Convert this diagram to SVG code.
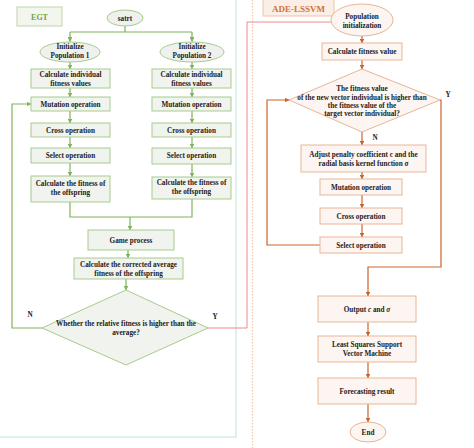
<svg xmlns="http://www.w3.org/2000/svg" width="474" height="448" viewBox="0 0 474 448">
<defs>
<marker id="ag" viewBox="0 0 6 6" refX="5.5" refY="3" markerWidth="4" markerHeight="4" orient="auto"><path d="M0,0 L6,3 L0,6 z" fill="#7fb35c"/></marker>
<marker id="ao" viewBox="0 0 6 6" refX="5.5" refY="3" markerWidth="4" markerHeight="4" orient="auto"><path d="M0,0 L6,3 L0,6 z" fill="#c8652a"/></marker>
</defs>
<style>
text{font-family:"Liberation Serif","DejaVu Serif",serif;font-weight:bold;font-size:7.2px;fill:#222;text-anchor:middle}
.gb{fill:#f1f3ee;stroke:#a6cc8e;stroke-width:1}
.ge{fill:#f0f0ee;stroke:#a6cc8e;stroke-width:1}
.ob{fill:#fcf5f1;stroke:#e8b596;stroke-width:1}
.gl{fill:none;stroke:#7fb35c;stroke-width:1.2}
.ol{fill:none;stroke:#c8652a;stroke-width:1.2}
.rl{fill:none;stroke:#ef8a8a;stroke-width:1}
</style>
<rect width="474" height="448" fill="#ffffff"/>
<g id="panels">
<rect x="-2" y="-2" width="238" height="439" fill="none" stroke="#bfe3dc" stroke-width="1"/>
<line x1="252.5" y1="0" x2="252.5" y2="448" stroke="#f2c6a6" stroke-width="1.2" stroke-dasharray="1.5,1.5"/>
</g>
<g id="connectors">
<path class="gl" d="M125,26 V32 M70,32 H192 M70,32 V41.5" marker-end="url(#ag)"/>
<path class="gl" d="M192,32 V41.5" marker-end="url(#ag)"/>
<path class="gl" d="M70,62 V69" marker-end="url(#ag)"/>
<path class="gl" d="M192,62 V69" marker-end="url(#ag)"/>
<path class="gl" d="M70,88 V97" marker-end="url(#ag)"/>
<path class="gl" d="M192,88 V97" marker-end="url(#ag)"/>
<path class="gl" d="M70,111 V123" marker-end="url(#ag)"/>
<path class="gl" d="M192,111 V123" marker-end="url(#ag)"/>
<path class="gl" d="M70,137 V148" marker-end="url(#ag)"/>
<path class="gl" d="M192,137 V148" marker-end="url(#ag)"/>
<path class="gl" d="M70,163 V176" marker-end="url(#ag)"/>
<path class="gl" d="M192,164 V177" marker-end="url(#ag)"/>
<path class="gl" d="M70,202 V217 H192 V199"/>
<path class="gl" d="M130,217 V230" marker-end="url(#ag)"/>
<path class="gl" d="M128,250 V258" marker-end="url(#ag)"/>
<path class="gl" d="M126,279 V290" marker-end="url(#ag)"/>
<path class="gl" d="M42,328 H12 V104 H31" marker-end="url(#ag)"/>
<path class="rl" d="M208,328 H247 V22 H331"/>
<path class="ol" d="M362,36 V43" marker-end="url(#ao)"/>
<path class="ol" d="M362,60 V69" marker-end="url(#ao)"/>
<path class="ol" d="M362,132 V145" marker-end="url(#ao)"/>
<path class="ol" d="M362,172 V179" marker-end="url(#ao)"/>
<path class="ol" d="M362,195 V208" marker-end="url(#ao)"/>
<path class="ol" d="M362,224 V237" marker-end="url(#ao)"/>
<path class="ol" d="M320,245 H267 V100 H289" marker-end="url(#ao)"/>
<path class="ol" d="M440,100 H441 V267 H368 V296" marker-end="url(#ao)"/>
<path class="ol" d="M368,322 V336" marker-end="url(#ao)"/>
<path class="ol" d="M368,362 V378" marker-end="url(#ao)"/>
<path class="ol" d="M368,404 V422" marker-end="url(#ao)"/>
</g>
<g id="egt-label"><rect x="17" y="7" width="45" height="19" fill="#f3f6ef" stroke="#b9d7a5"/><text x="39.5" y="19.5" style="fill:#6aa54a;font-size:8px">EGT</text></g>
<g id="start"><ellipse class="ge" cx="125" cy="18" rx="18" ry="8"/><text x="125" y="20.5">satrt</text></g>
<g id="init1"><ellipse class="ge" cx="70" cy="52" rx="30" ry="10"/><text x="70" y="49">Initialize</text><text x="70" y="58">Population 1</text></g>
<g id="init2"><ellipse class="ge" cx="192" cy="52" rx="32" ry="10"/><text x="192" y="49">Initialize</text><text x="192" y="58">Population 2</text></g>
<g id="calc1"><rect class="gb" x="31" y="69" width="79" height="19"/><text x="70.5" y="77">Calculate individual</text><text x="70.5" y="85.5">fitness values</text></g>
<g id="calc2"><rect class="gb" x="152" y="69" width="79" height="19"/><text x="191.5" y="77">Calculate individual</text><text x="191.5" y="85.5">fitness values</text></g>
<g id="mut1"><rect class="gb" x="31" y="97" width="79" height="14"/><text x="70.5" y="106.5">Mutation operation</text></g>
<g id="mut2"><rect class="gb" x="152" y="97" width="79" height="14"/><text x="191.5" y="106.5">Mutation operation</text></g>
<g id="cross1"><rect class="gb" x="31" y="123" width="79" height="14"/><text x="70.5" y="132.5">Cross operation</text></g>
<g id="cross2"><rect class="gb" x="152" y="123" width="79" height="14"/><text x="191.5" y="132.5">Cross operation</text></g>
<g id="sel1"><rect class="gb" x="31" y="148" width="79" height="15"/><text x="70.5" y="157.5">Select operation</text></g>
<g id="sel2"><rect class="gb" x="152" y="148" width="79" height="16"/><text x="191.5" y="158">Select operation</text></g>
<g id="off1"><rect class="gb" x="31" y="176" width="79" height="26"/><text x="70.5" y="186">Calculate the fitness of</text><text x="70.5" y="194.5">the offspring</text></g>
<g id="off2"><rect class="gb" x="152" y="177" width="79" height="22"/><text x="191.5" y="185">Calculate the fitness of</text><text x="191.5" y="193.5">the offspring</text></g>
<g id="game"><rect class="gb" x="88" y="230" width="86" height="20"/><text x="131" y="242.5">Game process</text></g>
<g id="avg"><rect class="gb" x="74" y="258" width="109" height="21"/><text x="128.5" y="266.5">Calculate the corrected average</text><text x="128.5" y="275.5">fitness of the offspring</text></g>
<g id="cond1"><polygon class="gb" points="126,290 208,328 126,365 42,328"/><text x="126" y="326">Whether the relative fitness is higher than the</text><text x="126" y="334.5">average?</text></g>
<text x="30" y="317">N</text>
<text x="215" y="319">Y</text>
<g id="ade-label"><rect x="263" y="-1" width="71" height="17" fill="#fbeee6" stroke="#edc3a8"/><text x="298.5" y="11.5" style="fill:#d0733a;font-size:9px">ADE-LSSVM</text></g>
<g id="popinit"><ellipse class="ob" cx="362" cy="20" rx="31" ry="16"/><text x="362" y="19">Population</text><text x="362" y="27.5">initialization</text></g>
<g id="calcfit"><rect class="ob" x="322" y="43" width="80" height="17"/><text x="362" y="54">Calculate fitness value</text></g>
<g id="cond2"><polygon class="ob" points="362,69 440,100 362,132 289,100"/><text x="362" y="91">The fitness value</text><text x="362" y="99.5">of the new vector individual is higher than</text><text x="362" y="107.5">the fitness value of the</text><text x="362" y="115.5">target vector individual?</text></g>
<text x="448" y="97">Y</text>
<text x="375" y="140">N</text>
<g id="adjust"><rect class="ob" x="301" y="145" width="125" height="27"/><text x="363.5" y="157">Adjust penalty coefficient c and the</text><text x="363.5" y="166">radial basis kernel function σ</text></g>
<g id="mut3"><rect class="ob" x="320" y="179" width="82" height="16"/><text x="361" y="189.5">Mutation operation</text></g>
<g id="cross3"><rect class="ob" x="320" y="208" width="82" height="16"/><text x="361" y="218.5">Cross operation</text></g>
<g id="sel3"><rect class="ob" x="320" y="237" width="82" height="16"/><text x="361" y="247.5">Select operation</text></g>
<g id="output"><rect class="ob" x="318" y="296" width="98" height="26"/><text x="367" y="311.5">Output <tspan font-style="italic">c</tspan> and <tspan font-style="italic">σ</tspan></text></g>
<g id="lssvm"><rect class="ob" x="318" y="336" width="98" height="26"/><text x="367" y="347">Least Squares Support</text><text x="367" y="355.5">Vector Machine</text></g>
<g id="forecast"><rect class="ob" x="318" y="378" width="98" height="26"/><text x="367" y="393.5">Forecasting result</text></g>
<g id="end"><ellipse class="ob" cx="368" cy="432" rx="18" ry="10"/><text x="368" y="434.5">End</text></g>
</svg>
